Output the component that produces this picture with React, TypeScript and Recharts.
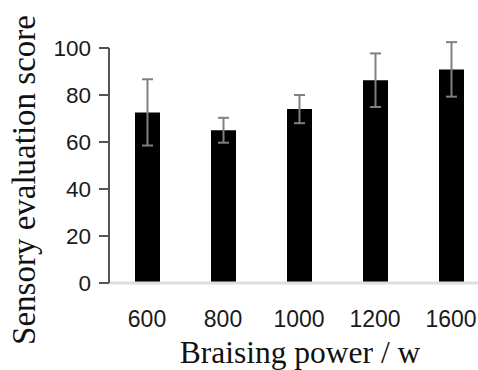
import React from 'react';
import { BarChart, Bar, XAxis, YAxis, ErrorBar, Label } from 'recharts';

const categories = ['600', '800', '1000', '1200', '1600'];
const scores = [72.6, 65, 74, 86.3, 90.9];
const errors = [14.1, 5.3, 6, 11.4, 11.6];
const yTicks = [0, 20, 40, 60, 80, 100];

const data = categories.map((c, i) => ({ power: c, score: scores[i], err: errors[i] }));

const serif = '"Liberation Serif", "Times New Roman", serif';
const sans = '"Liberation Sans", Arial, sans-serif';

export default function App() {
  return (
    <div style={{ position: 'absolute', left: 0, top: 0, width: 478, height: 370, overflow: 'hidden', background: '#fff' }}>
      <BarChart width={500} height={370} data={data} margin={{ top: 48, right: 11, bottom: 0, left: 0 }}>
        <XAxis
          dataKey="power"
          height={87}
          axisLine={{ stroke: '#dedede', strokeWidth: 3 }}
          tickLine={false}
          tickSize={0}
          tickMargin={28}
          tick={{ fontSize: 23, fill: '#1a1a1a', fontFamily: sans }}
          interval={0}
        >
          <Label
            content={() => (
              <text x={300} y={363} textAnchor="middle" fontFamily={serif} fontSize={31.5} fill="#111">
                Braising power / w
              </text>
            )}
          />
        </XAxis>
        <YAxis
          width={109}
          domain={[0, 100]}
          ticks={yTicks}
          allowDataOverflow
          axisLine={{ stroke: '#555', strokeWidth: 2 }}
          tickLine={{ stroke: '#555', strokeWidth: 2 }}
          tickSize={10}
          tickMargin={8}
          tick={{ fontSize: 22.5, fill: '#1a1a1a', fontFamily: sans }}
        >
          <Label
            content={() => (
              <text x={35} y={180} transform="rotate(-90 35 180)" textAnchor="middle" fontFamily={serif} fontSize={33} fill="#111">
                Sensory evaluation score
              </text>
            )}
          />
        </YAxis>
        <Bar dataKey="score" fill="#000" barSize={25} isAnimationActive={false}>
          <ErrorBar dataKey="err" width={5.5} stroke="#808080" strokeWidth={2} />
        </Bar>
      </BarChart>
    </div>
  );
}
